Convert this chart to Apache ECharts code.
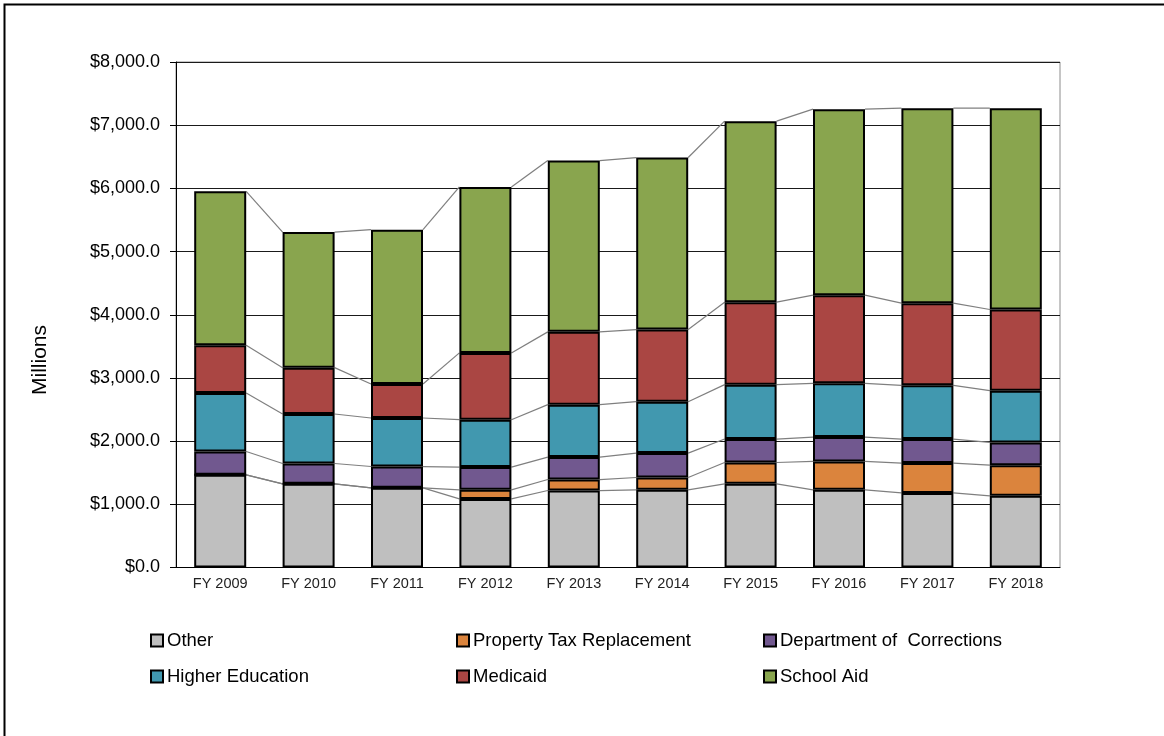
<!DOCTYPE html>
<html>
<head>
<meta charset="utf-8">
<title>General Fund Spending by Program</title>
<script src="https://cdn.jsdelivr.net/npm/echarts@6/dist/echarts.min.js"></script>
<style>
  html, body { margin: 0; padding: 0; background: #fff; }
  #chart { width: 1164px; height: 736px; }
</style>
</head>
<body>
<div id="chart"></div>
<script>
// Fiscal years on the x axis
const years = ['FY 2009', 'FY 2010', 'FY 2011', 'FY 2012', 'FY 2013', 'FY 2014', 'FY 2015', 'FY 2016', 'FY 2017', 'FY 2018'];

// Spending by program, $ millions (stacked bottom to top)
const other        = [1467, 1324, 1261, 1086, 1218, 1229, 1324, 1229, 1181, 1134];
const propertyTax  = [0, 0, 0, 143, 174, 195, 338, 449, 471, 486];
const corrections  = [369, 322, 337, 360, 355, 387, 371, 386, 381, 359];
const higherEd     = [926, 783, 768, 750, 830, 813, 861, 850, 850, 820];
const medicaid     = [755, 734, 539, 1057, 1152, 1142, 1305, 1396, 1300, 1284];
const schoolAid    = [2437, 2145, 2442, 2626, 2711, 2722, 2865, 2944, 3087, 3187];

// Y axis ticks
const yTicks = [0, 1000, 2000, 3000, 4000, 5000, 6000, 7000, 8000];

const seriesNames = ['Other', 'Property Tax Replacement', 'Department of  Corrections', 'Higher Education', 'Medicaid', 'School Aid'];
const seriesColors = ['#BFBFBF', '#DB843D', '#71588F', '#4198AF', '#AA4643', '#89A54E'];
const seriesValues = [other, propertyTax, corrections, higherEd, medicaid, schoolAid];

const BAR_W = 52;
const FONT = 'Liberation Sans, Arial, sans-serif';

// Cumulative top of each stacked segment, per year
const cumulative = seriesValues.map((_, s) =>
  years.map((_, i) => seriesValues.slice(0, s + 1).reduce((acc, arr) => acc + arr[i], 0))
);

// Connector data: one row per gap between neighbouring bars
const connectorData = [];
for (let i = 0; i < years.length - 1; i++) {
  const row = [i];
  cumulative.forEach(c => { row.push(c[i], c[i + 1]); });
  connectorData.push(row);
}

const chart = echarts.init(document.getElementById('chart'), null, { renderer: 'canvas' });

const barSeries = seriesNames.map((name, s) => ({
  name: name,
  type: 'bar',
  stack: 'total',
  barWidth: BAR_W,
  data: seriesValues[s],
  itemStyle: { color: seriesColors[s], borderColor: '#000', borderWidth: 2 },
  emphasis: { disabled: true },
  z: 3
}));

// Thin grey lines linking each segment top across neighbouring bars
const connectorSeries = {
  type: 'custom',
  name: 'connectors',
  data: connectorData,
  encode: { x: 0, y: [1, 2] },
  silent: true,
  z: 2,
  renderItem: function (params, api) {
    const i = api.value(0);
    const children = [];
    for (let s = 0; s < seriesNames.length; s++) {
      const a = api.coord([i, api.value(1 + 2 * s)]);
      const b = api.coord([i + 1, api.value(2 + 2 * s)]);
      children.push({
        type: 'line',
        shape: { x1: a[0] + BAR_W / 2, y1: a[1], x2: b[0] - BAR_W / 2, y2: b[1] },
        style: { stroke: '#7f7f7f', lineWidth: 1.2 }
      });
    }
    return { type: 'group', children: children };
  }
};

const legendCommon = {
  orient: 'vertical',
  top: 631,
  padding: 0,
  itemWidth: 12,
  itemHeight: 12,
  itemGap: 17,
  icon: 'rect',
  textStyle: { fontFamily: FONT, fontSize: 18.5, color: '#000', padding: [0, 0, 0, -1] },
  selectedMode: false
};

const option = {
  animation: false,
  backgroundColor: '#fff',
  textStyle: { fontFamily: FONT },
  grid: {
    left: 176, right: 104, top: 62, bottom: 168.5,
    show: true, borderColor: '#8c8c8c', borderWidth: 1, backgroundColor: 'transparent'
  },
  legend: [
    Object.assign({}, legendCommon, { left: 150, data: [seriesNames[0], seriesNames[3]] }),
    Object.assign({}, legendCommon, { left: 456, data: [seriesNames[1], seriesNames[4]] }),
    Object.assign({}, legendCommon, { left: 763, data: [seriesNames[2], seriesNames[5]] })
  ],
  xAxis: {
    type: 'category',
    data: years,
    axisLine: { lineStyle: { color: '#000', width: 1 } },
    axisTick: { show: false },
    axisLabel: { fontSize: 14.5, color: '#222', margin: 9 },
    splitLine: { show: false }
  },
  yAxis: {
    type: 'value',
    min: yTicks[0],
    max: yTicks[yTicks.length - 1],
    interval: 1000,
    axisLine: { show: true, lineStyle: { color: '#000', width: 1 } },
    axisTick: { show: true, length: 6, lineStyle: { color: '#000' } },
    axisLabel: {
      fontSize: 18, color: '#000', margin: 16,
      formatter: v => '$' + v.toLocaleString('en-US') + '.0'
    },
    splitLine: { show: true, lineStyle: { color: '#1a1a1a', width: 1 } }
  },
  graphic: [
    {
      type: 'polyline',
      shape: { points: [[4.5, 736], [4.5, 4.5], [1164, 4.5]] },
      style: { stroke: '#000', lineWidth: 2, fill: null },
      silent: true
    },
    {
      type: 'text',
      x: 40, y: 360,
      rotation: Math.PI / 2,
      style: {
        text: 'Millions', fontFamily: FONT, fontSize: 21, fill: '#000',
        align: 'center', verticalAlign: 'middle'
      },
      silent: true
    }
  ],
  series: barSeries.concat([connectorSeries])
};

chart.setOption(option);
</script>
</body>
</html>
